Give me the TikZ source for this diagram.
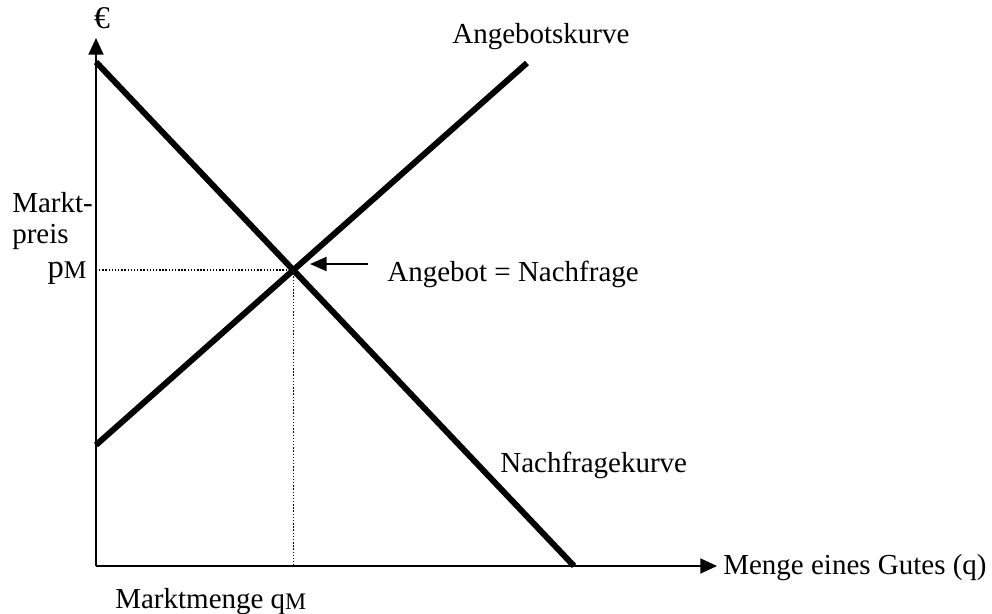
\documentclass[tikz,border=0pt]{standalone}
\usepackage{fontspec}
\setmainfont{Liberation Serif}
\usetikzlibrary{arrows.meta}

\newcommand{\tiefM}{\raisebox{-1pt}{\fontsize{13.5}{14}\selectfont M}}

\begin{document}
\begin{tikzpicture}[x=0.02cm, y=-0.02cm,
    achse/.style={line width=1.2pt, -{Triangle[length=9.5pt, width=8.5pt]}},
    kurve/.style={line width=3.4pt},
    hilfs/.style={densely dotted, line width=0.8pt},
    zeiger/.style={line width=1.2pt, -{Triangle[length=9.5pt, width=8pt]}},
    lbl/.style={font=\fontsize{16.5}{19}\selectfont, inner sep=0pt}]
    \useasboundingbox (0,0) rectangle (992,613);
    % Achsen
    \coordinate (O) at (96,566);
    \coordinate (ytop) at (96,38);
    \coordinate (xend) at (717,566);
    \draw[achse] (O) -- (ytop);
    \draw[achse] (O) -- (xend);
    % Kurven
    \coordinate (n1) at (96,62);
    \coordinate (n2) at (574,566);
    \coordinate (a1) at (96,445);
    \coordinate (a2) at (527,63);
    \draw[kurve] (n1) -- (n2);
    \draw[kurve] (a1) -- (a2);
    % Gleichgewicht
    \coordinate (gg) at (intersection of n1--n2 and a1--a2);
    \draw[hilfs] (gg) -- (O |- gg);
    \draw[hilfs] (gg) -- (gg |- O);
    \coordinate (zs) at (368,264);
    \coordinate (ze) at (310,264);
    \draw[zeiger] (zs) -- (ze);
    % Beschriftung
    \node[lbl, anchor=base, font=\fontsize{18}{20}\selectfont] (euro) at (102,28) {€};
    \node[lbl, anchor=base west] (akurve) at (452,43) {Angebotskurve};
    \node[lbl, anchor=base west] (markt) at (12,212) {Markt-};
    \node[lbl, anchor=base west] (preis) at (12,243) {preis};
    \node[lbl, anchor=base east, font=\fontsize{18.5}{20}\selectfont] (pm) at (87,277) {p\raisebox{-1pt}{\fontsize{14.5}{15}\selectfont M}};
    \node[lbl, anchor=base west] (gleich) at (387,281) {Angebot = Nachfrage};
    \node[lbl, anchor=base west] (nkurve) at (500,472) {Nachfragekurve};
    \node[lbl, anchor=base west] (menge) at (723,574) {Menge eines Gutes (q)};
    \node[lbl, anchor=base west] (qm) at (115,608) {Marktmenge q\tiefM};
\end{tikzpicture}
\end{document}
